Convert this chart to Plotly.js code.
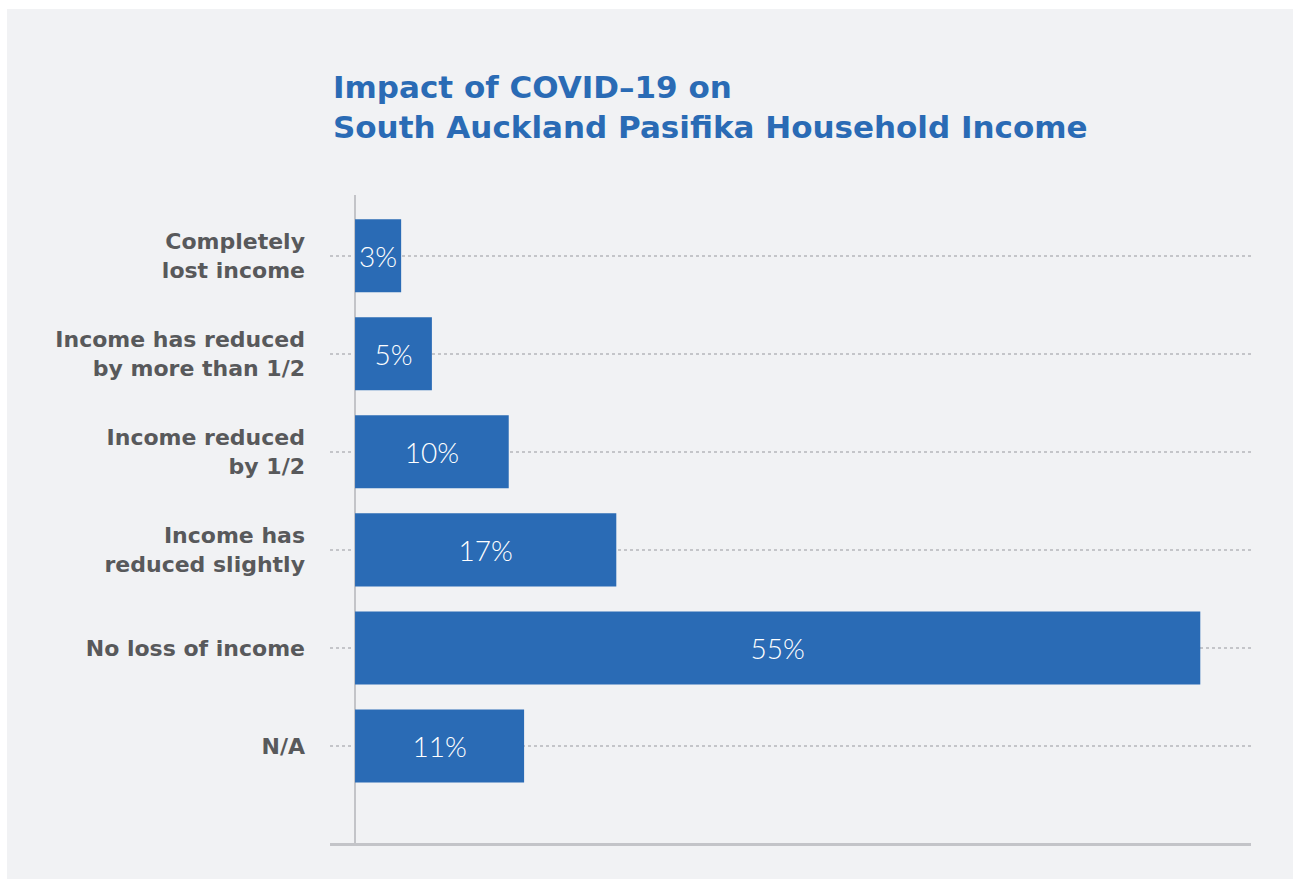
<!DOCTYPE html>
<html>
<head>
<meta charset="utf-8">
<script src="https://cdn.plot.ly/plotly-3.0.1.min.js"></script>
<style>
  html, body { margin: 0; padding: 0; background: #ffffff; width: 1293px; height: 879px; overflow: hidden; }
  #chart { position: absolute; left: 7px; top: 9px; width: 1286px; height: 870px; }
</style>
</head>
<body>
<div id="chart"></div>
<script>
// Data
const categories = [
  "Completely<br>lost income",
  "Income has reduced<br>by more than 1/2",
  "Income reduced<br>by 1/2",
  "Income has<br>reduced slightly",
  "No loss of income",
  "N/A"
];
const values = [3, 5, 10, 17, 55, 11];
const valueLabels = values.map(v => v + "%");

const blue = "#2a6bb5";
const grey = "#58595b";

const trace = {
  type: "bar",
  orientation: "h",
  y: categories,
  x: values,
  text: valueLabels,
  textposition: "inside",
  insidetextanchor: "middle",
  constraintext: "none",
  textfont: { family: "Lato, 'Open Sans', sans-serif", size: 28, color: "#ffffff", weight: 300 },
  marker: { color: blue, line: { width: 0 } },
  hoverinfo: "none"
};

const layout = {
  width: 1286,
  height: 870,
  paper_bgcolor: "#f1f2f4",
  plot_bgcolor: "rgba(0,0,0,0)",
  margin: { l: 323, r: 42, t: 186, b: 36, pad: 0 },
  showlegend: false,
  bargap: 0.255,
  title: {
    text: "Impact of COVID–19 on<br>South Auckland Pasifika Household Income",
    font: { family: "'DejaVu Sans', sans-serif", size: 31, color: blue, weight: 700 },
    x: 326 / 1286,
    xanchor: "left",
    xref: "container",
    y: 1 - 89 / 870,
    yanchor: "top",
    yref: "container"
  },
  xaxis: {
    range: [-1.63, 58.3],
    showticklabels: false,
    showgrid: false,
    zeroline: true,
    zerolinecolor: "#c3c4c8",
    zerolinewidth: 2.5,
    showline: true,
    linecolor: "#c3c4c8",
    linewidth: 3,
    ticks: "",
    fixedrange: true
  },
  yaxis: {
    type: "category",
    range: [5.99, -0.62],
    showgrid: true,
    gridcolor: "#c4c5c9",
    gridwidth: 2,
    griddash: "dot",
    zeroline: false,
    showline: false,
    ticks: "",
    ticklabelstandoff: 24,
    tickfont: { family: "'DejaVu Sans', sans-serif", size: 22, color: grey, weight: 700 },
    fixedrange: true
  }
};

Plotly.newPlot("chart", [trace], layout, { displayModeBar: false, staticPlot: true });
</script>
</body>
</html>
